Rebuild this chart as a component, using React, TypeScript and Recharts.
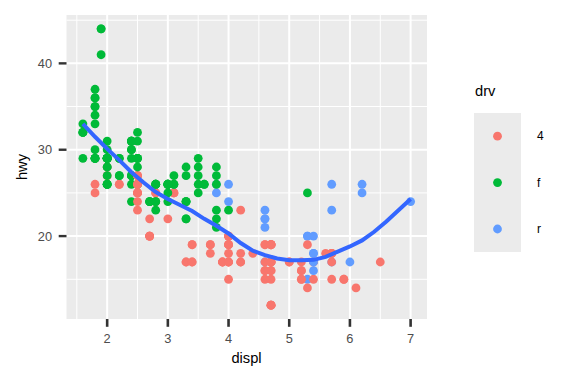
import React from "react";
import {
  ScatterChart,
  Scatter,
  XAxis,
  YAxis,
  ReferenceArea,
  ReferenceLine,
} from "recharts";

// mpg data: displ, hwy, drv (row order as in the data set)
const displ: number[] = [
  1.8, 1.8, 2.0, 2.0, 2.8, 2.8, 3.1,
  1.8, 1.8, 2.0, 2.0, 2.8, 2.8, 3.1, 3.1,
  2.8, 3.1, 4.2,
  5.3, 5.3, 5.3, 5.7, 6.0,
  5.7, 5.7, 6.2, 6.2, 7.0,
  5.3, 5.3, 5.7, 6.5,
  2.4, 2.4, 3.1, 3.5, 3.6,
  2.4, 3.0, 3.3, 3.3, 3.3, 3.3, 3.3, 3.8, 3.8, 3.8, 4.0,
  3.7, 3.7, 3.9, 3.9, 4.7, 4.7, 4.7, 5.2, 5.2,
  3.9, 4.7, 4.7, 4.7, 5.2, 5.7, 5.9,
  4.7, 4.7, 4.7, 4.7, 4.7, 4.7, 5.2, 5.2, 5.7, 5.9,
  4.6, 5.4, 5.4,
  4.0, 4.0, 4.0, 4.0, 4.6, 5.0,
  4.2, 4.2, 4.6, 4.6, 4.6, 5.4, 5.4,
  3.8, 3.8, 4.0, 4.0, 4.6, 4.6, 4.6, 4.6, 5.4,
  1.6, 1.6, 1.6, 1.6, 1.6, 1.8, 1.8, 1.8, 2.0,
  2.4, 2.4, 2.4, 2.4, 2.5, 2.5, 3.3,
  2.0, 2.0, 2.0, 2.0, 2.7, 2.7, 2.7,
  3.0, 3.7, 4.0, 4.7, 4.7, 4.7, 5.7, 6.1,
  4.0, 4.2, 4.4, 4.6,
  5.4, 5.4, 5.4,
  4.0, 4.0, 4.6, 5.0,
  2.4, 2.4, 2.5, 2.5, 3.5, 3.5,
  3.0, 3.0, 3.5,
  3.3, 3.3, 4.0, 5.6,
  3.1, 3.8, 3.8, 3.8, 5.3,
  2.5, 2.5, 2.5, 2.5, 2.5, 2.5,
  2.2, 2.2, 2.5, 2.5, 2.5, 2.5, 2.5, 2.5,
  2.7, 2.7, 3.4, 3.4, 4.0, 4.7,
  2.2, 2.2, 2.4, 2.4, 3.0, 3.0, 3.5,
  2.2, 2.2, 2.4, 2.4, 3.0, 3.0, 3.3,
  1.8, 1.8, 1.8, 1.8, 1.8,
  4.7, 5.7,
  2.7, 2.7, 2.7, 3.4, 3.4, 4.0, 4.0,
  2.0, 2.0, 2.0, 2.0, 2.8,
  1.9, 2.0, 2.0, 2.0, 2.0, 2.5, 2.5, 2.8, 2.8,
  1.9, 1.9, 2.0, 2.0, 2.5, 2.5,
  1.8, 1.8, 2.0, 2.0, 2.8, 2.8, 3.6,
];

const hwy: number[] = [
  29, 29, 31, 30, 26, 26, 27,
  26, 25, 28, 27, 25, 25, 25, 25,
  24, 25, 23,
  20, 15, 20, 17, 17,
  26, 23, 26, 25, 24,
  19, 14, 15, 17,
  27, 30, 26, 29, 26,
  24, 24, 22, 24, 24, 24, 22, 22, 21, 23, 23,
  19, 18, 17, 17, 19, 19, 12, 17, 15,
  17, 17, 12, 17, 16, 18, 15,
  16, 12, 17, 17, 16, 12, 15, 16, 17, 15,
  17, 17, 18,
  17, 19, 17, 19, 19, 17,
  17, 17, 16, 16, 17, 15, 17,
  26, 25, 26, 24, 21, 22, 23, 22, 20,
  33, 32, 32, 29, 32, 34, 36, 36, 29,
  26, 27, 30, 31, 26, 26, 28,
  26, 29, 28, 27, 24, 24, 24,
  22, 19, 20, 17, 19, 19, 18, 14,
  15, 18, 18, 15,
  17, 16, 18,
  17, 19, 19, 17,
  29, 27, 31, 32, 27, 26,
  26, 25, 25,
  17, 17, 20, 18,
  26, 26, 27, 28, 25,
  25, 24, 27, 25, 26, 23,
  26, 26, 26, 26, 27, 25, 27, 25,
  20, 20, 19, 17, 20, 19,
  29, 27, 31, 31, 26, 26, 28,
  27, 29, 31, 31, 26, 26, 27,
  30, 33, 35, 37, 35,
  15, 18,
  20, 20, 22, 17, 19, 18, 20,
  29, 26, 29, 29, 24,
  44, 29, 26, 29, 29, 29, 29, 23, 24,
  44, 41, 29, 26, 28, 29,
  29, 29, 28, 29, 26, 26, 26,
];

const drv: string[] = [
  "f", "f", "f", "f", "f", "f", "f",
  "4", "4", "4", "4", "4", "4", "4", "4",
  "4", "4", "4",
  "r", "r", "r", "r", "r",
  "r", "r", "r", "r", "r",
  "4", "4", "4", "4",
  "f", "f", "f", "f", "f",
  "f", "f", "f", "f", "f", "f", "f", "f", "f", "f", "f",
  "4", "4", "4", "4", "4", "4", "4", "4", "4",
  "4", "4", "4", "4", "4", "4", "4",
  "4", "4", "4", "4", "4", "4", "4", "4", "4", "4",
  "r", "r", "r",
  "4", "4", "4", "4", "4", "4",
  "4", "4", "4", "4", "4", "4", "4",
  "r", "r", "r", "r", "r", "r", "r", "r", "r",
  "f", "f", "f", "f", "f", "f", "f", "f", "f",
  "f", "f", "f", "f", "f", "f", "f",
  "f", "f", "f", "f", "f", "f", "f",
  "4", "4", "4", "4", "4", "4", "4", "4",
  "4", "4", "4", "4",
  "r", "r", "r",
  "4", "4", "4", "4",
  "f", "f", "f", "f", "f", "f",
  "f", "f", "f",
  "4", "4", "4", "4",
  "f", "f", "f", "f", "f",
  "4", "4", "4", "4", "4", "4",
  "4", "4", "4", "4", "4", "4", "4", "4",
  "4", "4", "4", "4", "4", "4",
  "f", "f", "f", "f", "f", "f", "f",
  "f", "f", "f", "f", "f", "f", "f",
  "f", "f", "f", "f", "f",
  "4", "4",
  "4", "4", "4", "4", "4", "4", "4",
  "f", "f", "f", "f", "f",
  "f", "f", "f", "f", "f", "f", "f", "f", "f",
  "f", "f", "f", "f", "f", "f",
  "f", "f", "f", "f", "f", "f", "f",
];

// smooth (loess) curve
const smoothX: number[] = [
  1.6, 1.8, 2.0, 2.2, 2.4, 2.6, 2.8, 3.0, 3.2, 3.4, 3.6, 3.8, 4.0, 4.2,
  4.4, 4.6, 4.8, 5.0, 5.2, 5.4, 5.6, 5.8, 6.0, 6.2, 6.4, 6.6, 6.8, 7.0,
];
const smoothY: number[] = [
  33.0, 31.5, 30.1, 28.8, 27.4, 26.2, 25.1, 24.3, 23.6, 22.9, 22.0, 21.2,
  20.3, 19.2, 18.3, 17.8, 17.4, 17.2, 17.2, 17.25, 17.6, 18.2, 18.8, 19.5,
  20.5, 21.7, 23.0, 24.3,
];

const drvLevels: string[] = ["4", "f", "r"];
const drvColors: Record<string, string> = {
  "4": "#F8766D",
  f: "#00BA38",
  r: "#619CFF",
};

const xTicks: number[] = [2, 3, 4, 5, 6, 7];
const yTicks: number[] = [20, 30, 40];
const xMinor: number[] = [1.5, 2.5, 3.5, 4.5, 5.5, 6.5];
const yMinor: number[] = [15, 25, 35, 45];

const X_DOMAIN: [number, number] = [1.33, 7.27];
const Y_DOMAIN: [number, number] = [10.4, 45.6];

const points = displ.map((d, i) => ({ x: d, y: hwy[i], drv: drv[i] }));
const smooth = smoothX.map((x, i) => ({ x, y: smoothY[i] }));

const FONT = "'Liberation Sans', Arial, Helvetica, sans-serif";
const PANEL_BOTTOM = 319;
const PANEL_LEFT = 66.5;

const PointShape = (props: any) => {
  const { cx, cy, payload } = props;
  if (cx == null || cy == null) return null;
  return <circle cx={cx} cy={cy} r={4.4} fill={drvColors[payload.drv]} />;
};

const NoShape = () => null;

const XTick = (props: any) => {
  const { x, payload } = props;
  return (
    <g>
      <line
        x1={x}
        x2={x}
        y1={PANEL_BOTTOM}
        y2={PANEL_BOTTOM + 7.8}
        stroke="#333333"
        strokeWidth={2.6}
      />
      <text
        x={x}
        y={342.7}
        textAnchor="middle"
        fontSize={12.8}
        fill="#4D4D4D"
        fontFamily={FONT}
      >
        {payload.value}
      </text>
    </g>
  );
};

const YTick = (props: any) => {
  const { y, payload } = props;
  return (
    <g>
      <line
        x1={PANEL_LEFT - 7.8}
        x2={PANEL_LEFT}
        y1={y}
        y2={y}
        stroke="#333333"
        strokeWidth={2.4}
      />
      <text
        x={52}
        y={y + 4.6}
        textAnchor="end"
        fontSize={12.8}
        fill="#4D4D4D"
        fontFamily={FONT}
      >
        {payload.value}
      </text>
    </g>
  );
};

export default function App() {
  return (
    <div
      style={{
        position: "absolute",
        left: 0,
        top: 0,
        width: 576,
        height: 384,
        background: "#FFFFFF",
        fontFamily: FONT,
      }}
    >
      <ScatterChart
        width={576}
        height={384}
        margin={{ top: 15, right: 149, bottom: 0, left: 46.5 }}
      >
        <XAxis
          type="number"
          dataKey="x"
          domain={X_DOMAIN}
          ticks={xTicks}
          allowDataOverflow
          height={65}
          axisLine={false}
          tickLine={false}
          tick={<XTick />}
        />
        <YAxis
          type="number"
          dataKey="y"
          domain={Y_DOMAIN}
          ticks={yTicks}
          allowDataOverflow
          width={20}
          axisLine={false}
          tickLine={false}
          tick={<YTick />}
        />
        <ReferenceArea
          x1={X_DOMAIN[0]}
          x2={X_DOMAIN[1]}
          y1={Y_DOMAIN[0]}
          y2={Y_DOMAIN[1]}
          fill="#EBEBEB"
          fillOpacity={1}
          stroke="none"
          ifOverflow="visible"
        />
        {xMinor.map((v) => (
          <ReferenceLine key={"xm" + v} x={v} stroke="#FFFFFF" strokeWidth={1} />
        ))}
        {yMinor.map((v) => (
          <ReferenceLine key={"ym" + v} y={v} stroke="#FFFFFF" strokeWidth={1} />
        ))}
        {xTicks.map((v) => (
          <ReferenceLine key={"xM" + v} x={v} stroke="#FFFFFF" strokeWidth={2} />
        ))}
        {yTicks.map((v) => (
          <ReferenceLine key={"yM" + v} y={v} stroke="#FFFFFF" strokeWidth={2} />
        ))}
        <Scatter
          data={points}
          shape={PointShape}
          isAnimationActive={false}
        />
        <Scatter
          data={smooth}
          shape={NoShape}
          line={{ stroke: "#3366FF", strokeWidth: 4, fill: "none" }}
          lineType="joint"
          isAnimationActive={false}
        />
      </ScatterChart>
      <div
        style={{
          position: "absolute",
          left: 0,
          top: 0,
          width: 576,
          height: 384,
          pointerEvents: "none",
        }}
      >
        <svg width={576} height={384} style={{ position: "absolute", left: 0, top: 0 }}>
          <text x={22} y={167} transform="rotate(-90 22 167)" dy={5} textAnchor="middle" fontSize={14.7} fill="#000000" fontFamily={FONT}>
            hwy
          </text>
          <text x={246.5} y={363} textAnchor="middle" fontSize={14.7} fill="#000000" fontFamily={FONT}>
            displ
          </text>
          <text x={475} y={96} fontSize={14.7} fill="#000000" fontFamily={FONT}>
            drv
          </text>
          <rect x={474} y={113} width={47} height={139} fill="#EBEBEB" />
          {drvLevels.map((lv, i) => (
            <g key={lv}>
              <circle cx={497.5} cy={136.2 + i * 46.4} r={4.4} fill={drvColors[lv]} />
              <text x={537} y={136.2 + i * 46.4 + 4.2} fontSize={12} fill="#000000" fontFamily={FONT}>
                {lv}
              </text>
            </g>
          ))}
        </svg>
      </div>
    </div>
  );
}
